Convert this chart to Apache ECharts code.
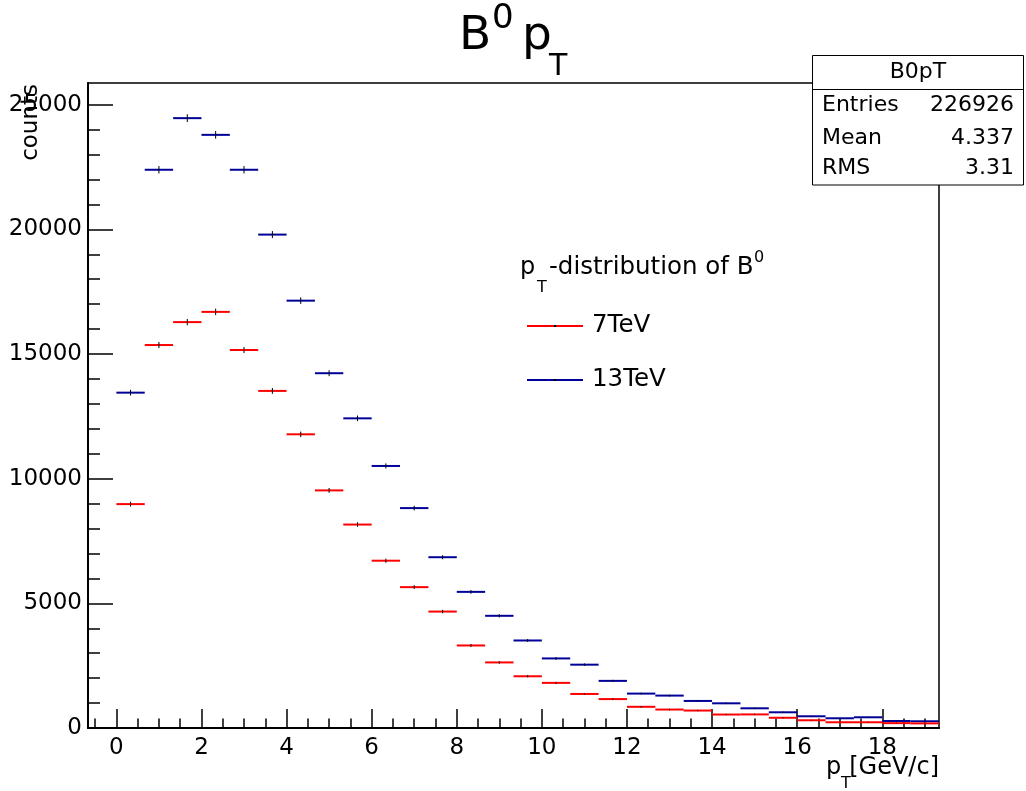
<!DOCTYPE html>
<html><head><meta charset="utf-8">
<script src="https://cdn.jsdelivr.net/npm/echarts@6/dist/echarts.min.js"></script>
<style>html,body{margin:0;padding:0;background:#fff}#c{width:1026px;height:791px}</style>
</head><body><div id="c"></div>
<script>
// ---- data ----
const binCenters = [0.3333, 1, 1.6667, 2.3333, 3, 3.6667, 4.3333, 5, 5.6667, 6.3333, 7, 7.6667, 8.3333, 9, 9.6667,
  10.3333, 11, 11.6667, 12.3333, 13, 13.6667, 14.3333, 15, 15.6667, 16.3333, 17, 17.6667, 18.3333, 19];
const counts13TeV = [13450, 22390, 24460, 23790, 22390, 19790, 17140, 14230, 12420, 10510, 8820, 6850, 5460, 4500, 3510,
  2790, 2540, 1890, 1380, 1300, 1085, 990, 790, 630, 470, 390, 430, 280, 270];
const counts7TeV = [8980, 15360, 16280, 16690, 15160, 13520, 11780, 9530, 8160, 6710, 5650, 4670, 3310, 2630, 2075,
  1810, 1365, 1160, 850, 740, 700, 540, 545, 410, 310, 230, 230, 195, 185];
const seriesNames = ['7TeV', '13TeV'];
const xMajorTicks = [0, 2, 4, 6, 8, 10, 12, 14, 16, 18];
const xMinorTicks = [-0.5, 0.5, 1, 1.5, 2.5, 3, 3.5, 4.5, 5, 5.5, 6.5, 7, 7.5, 8.5, 9, 9.5, 10.5, 11, 11.5,
  12.5, 13, 13.5, 14.5, 15, 15.5, 16.5, 17, 17.5, 18.5, 19];
const yMajorTicks = [0, 5000, 10000, 15000, 20000, 25000];
const yMinorTicks = [1000, 2000, 3000, 4000, 6000, 7000, 8000, 9000, 11000, 12000, 13000, 14000,
  16000, 17000, 18000, 19000, 21000, 22000, 23000, 24000];
const statsTitle = 'B0pT';
const statsNames = ['Entries', 'Mean', 'RMS'];
const statsValues = ['226926', '4.337', '3.31'];

const binWidth = 2 / 3;
const FONT = 'DejaVu Sans';
const RED = '#ff0000', BLUE = '#000099';

function pairs(xs, ys) { return xs.map((x, i) => [x, ys[i]]); }

function renderHist(color) {
  return function (params, api) {
    const x = api.value(0), y = api.value(1);
    const a = api.coord([x - binWidth / 2, y]);
    const b = api.coord([x + binWidth / 2, y]);
    const e = Math.sqrt(y);
    const lo = api.coord([x, y - e]);
    const hi = api.coord([x, y + e]);
    return {
      type: 'group',
      children: [
        { type: 'line', shape: { x1: a[0], y1: a[1], x2: b[0], y2: b[1] }, style: { stroke: color, lineWidth: 2 } },
        { type: 'line', shape: { x1: lo[0], y1: lo[1], x2: hi[0], y2: hi[1] }, style: { stroke: '#000', lineWidth: 1 } }
      ]
    };
  };
}

const chart = echarts.init(document.getElementById('c'), null, { renderer: 'canvas' });

const txt = (x, y, text, size, align, extra) => Object.assign({
  type: 'text', x: x, y: y, z: 100,
  style: { text: text, font: size + 'px "' + FONT + '"', fill: '#000', align: align || 'left', verticalAlign: 'middle' }
}, extra || {});

const graphics = [
  // title  B^0 p_T
  txt(459, 36.5, 'B', 47),
  txt(492, 19.2, '0', 34),
  txt(522, 36.5, 'p', 47),
  txt(549, 67.5, 'T', 30),
  // y-axis title
  txt(31, 84, 'counts', 23, 'right', { rotation: Math.PI / 2 }),
  // x-axis title
  txt(826, 768, 'p', 24),
  txt(841, 784, 'T', 16),
  txt(939, 768, '[GeV/c]', 24, 'right'),
  // stats box
  { type: 'rect', z: 90, shape: { x: 812.5, y: 55.5, width: 211, height: 129.5 }, style: { fill: '#fff', stroke: '#000', lineWidth: 1 } },
  { type: 'line', z: 91, shape: { x1: 812.5, y1: 89.5, x2: 1023.5, y2: 89.5 }, style: { stroke: '#000', lineWidth: 1 } },
  txt(918, 72, statsTitle, 22, 'center'),
  // legend header  p_T-distribution of B^0
  txt(520, 268, 'p', 24),
  txt(537, 287.5, 'T', 16),
  txt(549, 268, '-distribution of B', 24.5),
  txt(754, 258.3, '0', 16),
  // legend entries
  { type: 'line', z: 100, shape: { x1: 527, y1: 326, x2: 583, y2: 326 }, style: { stroke: RED, lineWidth: 2 } },
  { type: 'rect', z: 101, shape: { x: 554, y: 325, width: 2, height: 2 }, style: { fill: '#000' } },
  txt(592, 326, seriesNames[0], 24.5),
  { type: 'line', z: 100, shape: { x1: 527, y1: 380, x2: 583, y2: 380 }, style: { stroke: BLUE, lineWidth: 2 } },
  { type: 'rect', z: 101, shape: { x: 554, y: 379, width: 2, height: 2 }, style: { fill: '#000' } },
  txt(592, 380, seriesNames[1], 24.5)
];
const statsY = [105.3, 138, 168.7];
statsNames.forEach((n, i) => {
  graphics.push(txt(822, statsY[i], n, 22));
  graphics.push(txt(1014, statsY[i], statsValues[i], 22, 'right'));
});

const axisFont = { fontFamily: FONT, fontSize: 23, color: '#000' };

chart.setOption({
  animation: false,
  backgroundColor: '#fff',
  grid: { left: 88, right: 87, top: 83, bottom: 63, show: true, borderColor: '#000', borderWidth: 1.5, backgroundColor: 'transparent' },
  xAxis: [
    {
      type: 'value', min: -2 / 3, max: 58 / 3,
      axisLine: { show: true, onZero: false, lineStyle: { color: '#000', width: 2 } },
      axisTick: { show: true, inside: true, length: 19, customValues: xMajorTicks, lineStyle: { color: '#000', width: 1.5 } },
      axisLabel: Object.assign({ customValues: xMajorTicks, margin: 9 }, axisFont),
      splitLine: { show: false }
    },
    {
      type: 'value', min: -2 / 3, max: 58 / 3, position: 'bottom',
      axisLine: { show: false, onZero: false },
      axisTick: { show: true, inside: true, length: 9.5, customValues: xMinorTicks, lineStyle: { color: '#000', width: 1.5 } },
      axisLabel: { show: false },
      splitLine: { show: false }
    }
  ],
  yAxis: [
    {
      type: 'value', min: 0, max: 25870,
      axisLine: { show: true, onZero: false, lineStyle: { color: '#000', width: 2 } },
      axisTick: { show: true, inside: true, length: 25, customValues: yMajorTicks, lineStyle: { color: '#000', width: 1.5 } },
      axisLabel: Object.assign({ margin: 6, customValues: yMajorTicks, formatter: v => String(v) }, axisFont),
      splitLine: { show: false }
    },
    {
      type: 'value', min: 0, max: 25870, position: 'left',
      axisLine: { show: false, onZero: false },
      axisTick: { show: true, inside: true, length: 12, customValues: yMinorTicks, lineStyle: { color: '#000', width: 1.5 } },
      axisLabel: { show: false },
      splitLine: { show: false }
    }
  ],
  series: [
    { name: seriesNames[1], type: 'custom', xAxisIndex: 0, yAxisIndex: 0, renderItem: renderHist(BLUE), data: pairs(binCenters, counts13TeV), z: 3 },
    { name: seriesNames[0], type: 'custom', xAxisIndex: 0, yAxisIndex: 0, renderItem: renderHist(RED), data: pairs(binCenters, counts7TeV), z: 4 }
  ],
  graphic: graphics
});
</script>
</body></html>
